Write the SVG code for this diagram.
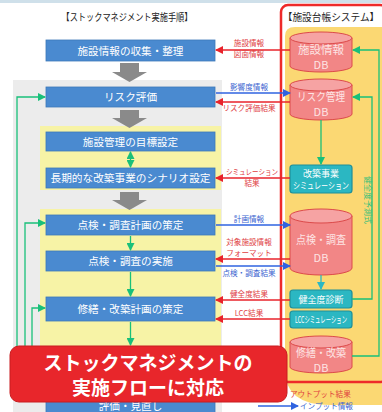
<svg xmlns="http://www.w3.org/2000/svg" width="382" height="412" viewBox="0 0 382 412">
<defs>
<marker id="mr" markerWidth="8" markerHeight="8" refX="7" refY="4" orient="auto" markerUnits="userSpaceOnUse"><path d="M0,0 L8,4 L0,8 Z" fill="#e8232b"/></marker>
<marker id="mb" markerWidth="8" markerHeight="8" refX="7" refY="4" orient="auto" markerUnits="userSpaceOnUse"><path d="M0,0 L8,4 L0,8 Z" fill="#2f63e0"/></marker>
<marker id="mg" markerWidth="8" markerHeight="8" refX="7" refY="4" orient="auto" markerUnits="userSpaceOnUse"><path d="M0,0 L8,4 L0,8 Z" fill="#19c07a"/></marker>
<marker id="mgs" markerWidth="8" markerHeight="8" refX="1" refY="4" orient="auto" markerUnits="userSpaceOnUse"><path d="M8,0 L0,4 L8,8 Z" fill="#19c07a"/></marker>
<marker id="mt" markerWidth="8" markerHeight="8" refX="7" refY="4" orient="auto" markerUnits="userSpaceOnUse"><path d="M0,0 L8,4 L0,8 Z" fill="#2bb8c4"/></marker>
</defs>
<style>
text{font-family:"Noto Sans CJK JP","Noto Sans",sans-serif}
.box{fill:#4a8ad0;stroke:#3d78b8;stroke-width:0.8}
.bt{fill:#fff;font-size:10.6px;text-anchor:middle}
.cyl{fill:#f28686;stroke:#dc4a4a;stroke-width:1}
.cyt{fill:#f6a3a3;stroke:#dc4a4a;stroke-width:1}
.ct{fill:#fde4e4;font-size:11px;text-anchor:middle}
.teal{fill:#2bb7c2;stroke:#1f8f99;stroke-width:1.2}
.tt{fill:#fff;font-size:9px;text-anchor:middle}
.rl{stroke:#e8232b;stroke-width:1.3;fill:none;marker-end:url(#mr)}
.bl{stroke:#2f63e0;stroke-width:1.3;fill:none;marker-end:url(#mb)}
.gl{stroke:#19c07a;stroke-width:1.3;fill:none;marker-end:url(#mg)}
.lr{fill:#e0403f;font-size:7.6px;text-anchor:middle}
.lb{fill:#3a64d0;font-size:7.6px;text-anchor:middle}
.ga{fill:#8a8a8a}
</style>
<rect x="0" y="0" width="382" height="412" fill="#ffffff"/>
<rect x="0" y="0" width="382" height="3" fill="#cfe0ea"/>
<!-- left panels -->
<rect x="13" y="80" width="209" height="332" fill="#ececec"/>
<rect x="40" y="126" width="181" height="64" fill="#f7f3a6"/>
<rect x="40" y="209" width="181" height="186" fill="#f7f3a6"/>
<text x="127" y="21" font-size="10" text-anchor="middle" fill="#222" textLength="131" lengthAdjust="spacingAndGlyphs">【ストックマネジメント実施手順】</text>
<!-- right system panel -->
<path d="M285,36 Q285,27 295,27 L382,27 L382,405 L330,405 Q285,405 285,370 Z" fill="#fbd873"/>
<rect x="281" y="5" width="106" height="377" rx="7" fill="none" stroke="#ee2a2a" stroke-width="2.5"/>
<text x="331" y="21" font-size="9.7" text-anchor="middle" fill="#222">【施設台帳システム】</text>
<!-- gray arrows -->
<polygon class="ga" points="120,63 139,63 139,72 147,72 129.5,82 112,72 120,72"/>
<polygon class="ga" points="120,110 139,110 139,118 147,118 129.5,128 112,118 120,118"/>
<polygon class="ga" points="120,192 139,192 139,200 147,200 129.5,210 112,200 120,200"/>
<!-- left nodes -->
<g id="n-collect"><rect class="box" x="46" y="40" width="169" height="21"/><text class="bt" x="130.5" y="54.5">施設情報の収集・整理</text></g>
<g id="n-risk"><rect class="box" x="46" y="87" width="169" height="20"/><text class="bt" x="130.5" y="101">リスク評価</text></g>
<g id="n-target"><rect class="box" x="46" y="132" width="169" height="19"/><text class="bt" x="130.5" y="145.5">施設管理の目標設定</text></g>
<g id="n-scenario"><rect class="box" x="46" y="168" width="169" height="20"/><text class="bt" x="130.5" y="182" textLength="160" lengthAdjust="spacingAndGlyphs">長期的な改築事業のシナリオ設定</text></g>
<g id="n-plan"><rect class="box" x="46" y="215" width="169" height="20"/><text class="bt" x="130.5" y="229">点検・調査計画の策定</text></g>
<g id="n-exec"><rect class="box" x="46" y="251" width="169" height="20"/><text class="bt" x="130.5" y="265">点検・調査の実施</text></g>
<g id="n-repair"><rect class="box" x="46" y="297" width="169" height="24"/><text class="bt" x="130.5" y="313">修繕・改築計画の策定</text></g>
<g id="n-review"><rect class="box" x="46" y="397" width="169" height="20"/><text class="bt" x="130.5" y="410">評価・見直し</text></g>
<!-- right nodes -->
<g id="db-info"><path class="cyl" d="M290,38 V66 A31,6 0 0 0 352,66 V38 Z"/><ellipse class="cyt" cx="321" cy="38" rx="31" ry="6"/><text class="ct" x="321" y="54" textLength="46" lengthAdjust="spacingAndGlyphs">施設情報</text><text class="ct" x="321" y="69">DB</text></g>
<g id="db-risk"><path class="cyl" d="M290,85 V114 A31,6 0 0 0 352,114 V85 Z"/><ellipse class="cyt" cx="321" cy="85" rx="31" ry="6"/><text class="ct" x="321" y="101" textLength="48" lengthAdjust="spacingAndGlyphs">リスク管理</text><text class="ct" x="321" y="116">DB</text></g>
<g id="sim"><rect class="teal" x="290" y="165" width="62" height="28" rx="3"/><text class="tt" x="321" y="177">改築事業</text><text class="tt" x="321" y="189" textLength="56" lengthAdjust="spacingAndGlyphs">シミュレーション</text></g>
<g id="db-insp"><path class="cyl" d="M290,216 V268 A31,7 0 0 0 352,268 V216 Z"/><ellipse class="cyt" cx="321" cy="216" rx="31" ry="7"/><text class="ct" x="321" y="244" textLength="50" lengthAdjust="spacingAndGlyphs">点検・調査</text><text class="ct" x="321" y="262">DB</text></g>
<g id="health"><rect class="teal" x="290" y="290" width="62" height="18" rx="3"/><text class="tt" x="321" y="302.5">健全度診断</text></g>
<g id="lcc"><rect class="teal" x="290" y="311" width="62" height="17" rx="3"/><text class="tt" x="321" y="322.5" font-size="7px" textLength="52" lengthAdjust="spacingAndGlyphs">LCCシミュレーション</text></g>
<g id="db-repair"><path class="cyl" d="M290,342 V367 A31,6 0 0 0 352,367 V342 Z"/><ellipse class="cyt" cx="321" cy="342" rx="31" ry="6"/><text class="ct" x="321" y="357" textLength="50" lengthAdjust="spacingAndGlyphs">修繕・改築</text><text class="ct" x="321" y="372">DB</text></g>
<!-- connectors -->
<g id="connectors">
<path class="rl" d="M290,50 H216"/>
<path class="bl" d="M216,93 H290"/>
<path class="rl" d="M290,102 H216"/>
<path class="rl" d="M290,178 H216"/>
<path class="bl" d="M216,225 H290"/>
<path class="rl" d="M290,259 H216"/>
<path class="bl" d="M216,266 H290"/>
<path class="rl" d="M290,300 H216"/>
<path class="rl" d="M290,319 H216"/>
<path class="gl" d="M321,120 V164"/>
<path d="M321,275 V289" stroke="#2bb8c4" stroke-width="1.3" fill="none" marker-end="url(#mt)"/>
<path class="gl" d="M352,356 H379 V50 H353"/>
<path class="gl" d="M352,299 H372 V97 H353"/>
<path class="gl" d="M130.5,152 V167" marker-start="url(#mgs)"/>
<path class="gl" d="M130.5,236 V250"/>
<path class="gl" d="M130.5,272 V296"/>
<path class="gl" d="M130.5,322 V345"/>
<path class="gl" d="M17,350 V97 H45"/>
<path class="gl" d="M25,350 V223 H45"/>
<path class="gl" d="M32,350 V308 H45"/>
<path class="bl" d="M258,406 H298"/>
</g>
<text x="365" y="200" font-size="8" fill="#3cc07a" text-anchor="middle" transform="rotate(90 365 200)">健全度予測式</text>
<!-- labels -->
<text class="lr" x="249" y="46">施設情報</text>
<text class="lr" x="249" y="57">図面情報</text>
<text class="lb" x="249" y="90">影響度情報</text>
<text class="lr" x="249" y="111">リスク評価結果</text>
<text class="lr" x="252" y="175" textLength="52" lengthAdjust="spacingAndGlyphs">シミュレーション</text>
<text class="lr" x="252" y="186">結果</text>
<text class="lb" x="249" y="222">計画情報</text>
<text class="lr" x="249" y="245">対象施設情報</text>
<text class="lr" x="249" y="256">フォーマット</text>
<text class="lb" x="249" y="276">点検・調査結果</text>
<text class="lr" x="249" y="297">健全度結果</text>
<text class="lr" x="249" y="316">LCC結果</text>
<text x="290" y="397" font-size="7.6" fill="#e0403f">アウトプット結果</text>
<text x="300" y="409" font-size="7.6" fill="#3a64d0">インプット情報</text>
<!-- overlay -->
<g id="overlay">
<rect x="10" y="346" width="277" height="56" rx="9" fill="#e8262b" stroke="#c81d20" stroke-width="1"/>
<text x="148" y="370" font-size="19" font-weight="bold" fill="#fff" text-anchor="middle">ストックマネジメントの</text>
<text x="148" y="395" font-size="19" font-weight="bold" fill="#fff" text-anchor="middle">実施フローに対応</text>
</g>
</svg>
